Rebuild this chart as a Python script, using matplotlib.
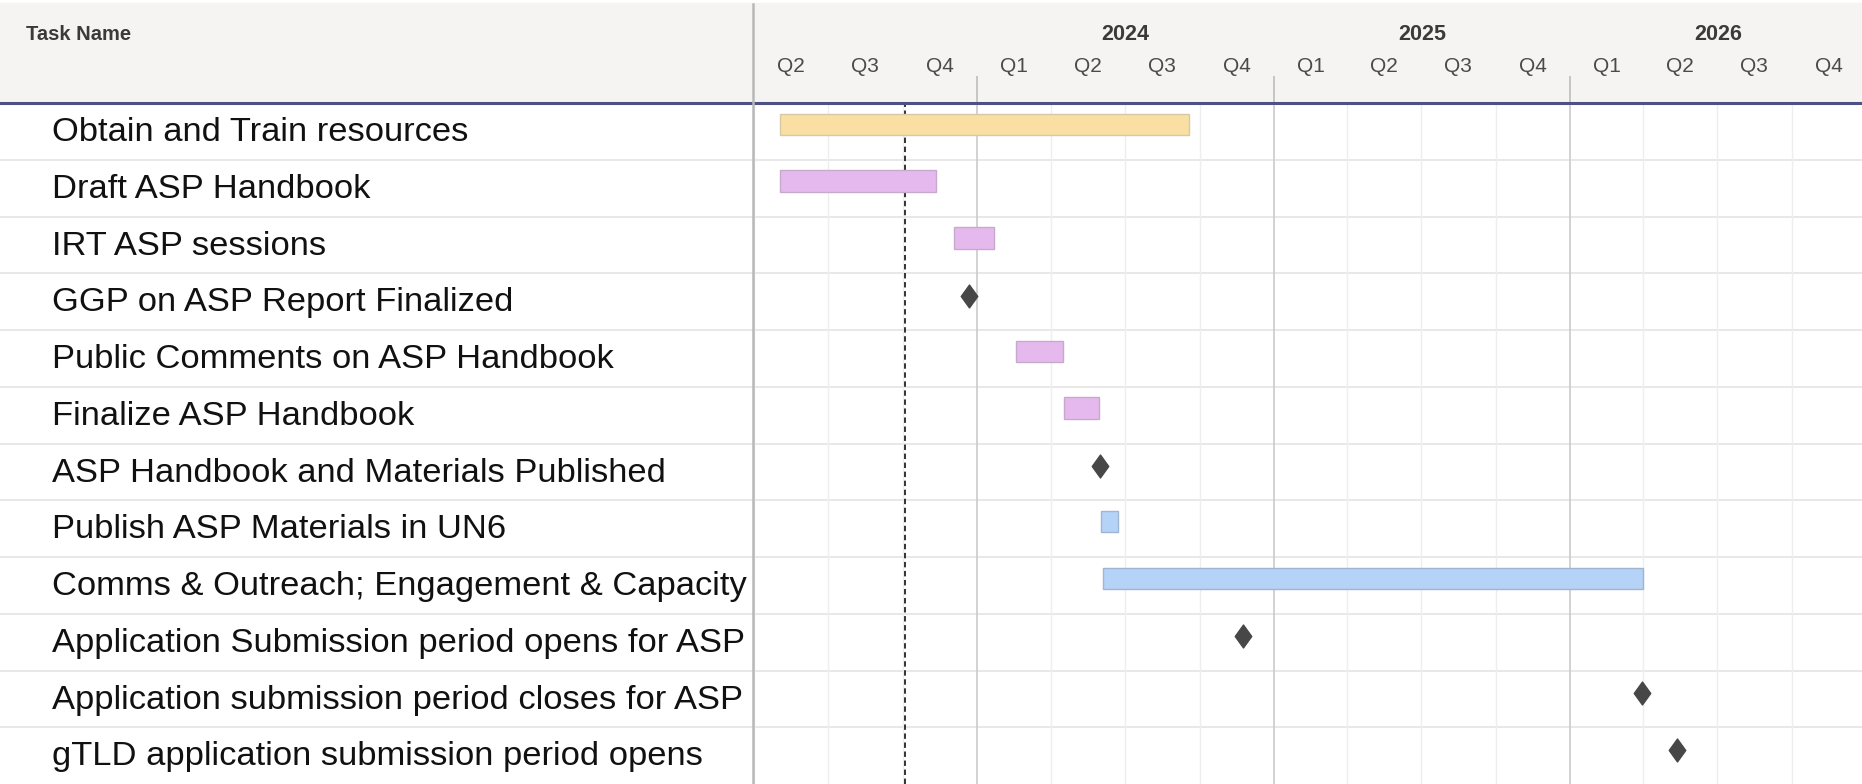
import datetime as dt
import matplotlib
matplotlib.use('Agg')
import matplotlib.pyplot as plt
import matplotlib.dates as mdates
from matplotlib.path import Path
from matplotlib.lines import Line2D
from matplotlib.patches import Rectangle

plt.rcParams['font.family'] = ['Liberation Sans', 'DejaVu Sans']

# tarefas do cronograma (de cima para baixo)
tasks = [
    'Obtain and Train resources',
    'Draft ASP Handbook',
    'IRT ASP sessions',
    'GGP on ASP Report Finalized',
    'Public Comments on ASP Handbook',
    'Finalize ASP Handbook',
    'ASP Handbook and Materials Published',
    'Publish ASP Materials in UN6',
    'Comms & Outreach; Engagement & Capacity',
    'Application Submission period opens for ASP',
    'Application submission period closes for ASP',
    'gTLD application submission period opens',
]
starts = ['2023-05-03', '2023-05-03', '2023-12-03', '2023-12-22', '2024-02-18', '2024-04-17',
          '2024-05-31', '2024-06-02', '2024-06-04', '2024-11-24', '2026-03-31', '2026-05-13']
ends = ['2024-09-18', '2023-11-11', '2024-01-21', None, '2024-04-16', '2024-05-30',
        None, '2024-06-22', '2026-04-01', None, None, None]
bar_colors = ['yellow', 'pink', 'pink', None, 'pink', 'pink', None, 'blue', 'blue', None, None, None]
today = '2023-10-04'

quarter_starts = ['2023-04-01', '2023-07-01', '2023-10-01', '2024-01-01', '2024-04-01', '2024-07-01',
                  '2024-10-01', '2025-01-01', '2025-04-01', '2025-07-01', '2025-10-01', '2026-01-01',
                  '2026-04-01', '2026-07-01', '2026-10-01', '2027-01-01']
quarter_labels = ['Q2', 'Q3', 'Q4', 'Q1', 'Q2', 'Q3', 'Q4', 'Q1', 'Q2', 'Q3', 'Q4', 'Q1', 'Q2', 'Q3', 'Q4']
years = ['2024', '2025', '2026']

palette = {
    'yellow': ('#f9dfa3', '#d8c9a6'),
    'pink': ('#e6b9ee', '#c6aacb'),
    'blue': ('#b5d3f7', '#9fb5d4'),
}


def d(s):
    return mdates.date2num(dt.datetime.strptime(s, '%Y-%m-%d'))


W, H = 1862, 784
header_h = 103
left_w = 753

fig = plt.figure(figsize=(W / 100, H / 100), dpi=100)
fig.patch.set_facecolor('white')

# fundo do cabeçalho (atrás dos eixos)
fig.patches.append(Rectangle((0, (H - header_h) / H), 1, (header_h - 3) / H,
                             transform=fig.transFigure, color='#f5f4f2', zorder=-5))

ax = fig.add_axes([left_w / W, 0, 1 - left_w / W, (H - header_h) / H])
ax_l = fig.add_axes([0, 0, left_w / W, (H - header_h) / H], sharey=ax)
ax_h = fig.add_axes([left_w / W, (H - header_h) / H, 1 - left_w / W, header_h / H], sharex=ax)

n = len(tasks)
ax.set_ylim(n, 0)
x_ref = d('2024-01-01')
ax.set_xlim(x_ref - 276.5, x_ref + 1090.6)
ax_h.set_ylim(header_h, 0)

for a in (ax, ax_l, ax_h):
    a.set_xticks([])
    a.set_yticks([])
    for s in a.spines.values():
        s.set_visible(False)
ax_h.patch.set_visible(False)
ax_l.set_xlim(0, 1)

# linhas das linhas da tabela
for i in range(1, n):
    ax.axhline(i, color='#e4e4e4', lw=1.2, zorder=1)
    ax_l.axhline(i, color='#e4e4e4', lw=1.2, zorder=1)

# grade de trimestres e anos
for q in quarter_starts:
    if q.endswith('01-01'):
        ax.axvline(d(q), color='#cbcbcb', lw=1.2, zorder=1)
        ax_h.vlines(d(q), 76, header_h, color='#bdbdbd', lw=1.2)
    else:
        ax.axvline(d(q), color='#eeeeee', lw=1.0, zorder=1)

for k, lab in enumerate(quarter_labels):
    mid = (d(quarter_starts[k]) + d(quarter_starts[k + 1])) / 2
    ax_h.text(mid, 67, lab, ha='center', va='center', fontsize=15, color='#4a4a4a')

for y in years:
    mid = (d(y + '-01-01') + d(str(int(y) + 1) + '-01-01')) / 2
    ax_h.text(mid, 34, y, ha='center', va='center', fontsize=15.5, fontweight='bold', color='#3a3a3a')

# linha de hoje
ax.axvline(d(today), color='#222222', lw=1.3, ls=(0, (3, 2)), zorder=2)

diamond = Path([(0, 1), (0.72, 0), (0, -1), (-0.72, 0), (0, 1)],
               [Path.MOVETO, Path.LINETO, Path.LINETO, Path.LINETO, Path.CLOSEPOLY])

for i, task in enumerate(tasks):
    ax_l.text(52 / left_w, i + 0.5 + 0.02, task, fontsize=24.8, va='center', color='#111111')
    if ends[i] is None:
        ax.plot(d(starts[i]), i + 0.5 - 0.1, marker=diamond, ms=16.5, color='#474747',
                mec='#474747', zorder=4)
    else:
        face, edge = palette[bar_colors[i]]
        ax.barh(i + 0.5 - 0.124, d(ends[i]) - d(starts[i]), left=d(starts[i]), height=0.38,
                color=face, edgecolor=edge, lw=1.0, zorder=3)

fig.text(26 / W, 1 - 35 / H, 'Task Name', fontsize=14.5, fontweight='bold', va='center', color='#3a3a3a')

# linha inferior do cabeçalho e divisória
fig.lines.append(Line2D([0, 1], [(H - header_h) / H] * 2, transform=fig.transFigure,
                        color='#4d5286', lw=2.2, zorder=10))
fig.lines.append(Line2D([left_w / W] * 2, [0, (H - 4) / H], transform=fig.transFigure,
                        color='#b8b8b8', lw=1.8, zorder=10))

fig.savefig('out.png', dpi=100)
